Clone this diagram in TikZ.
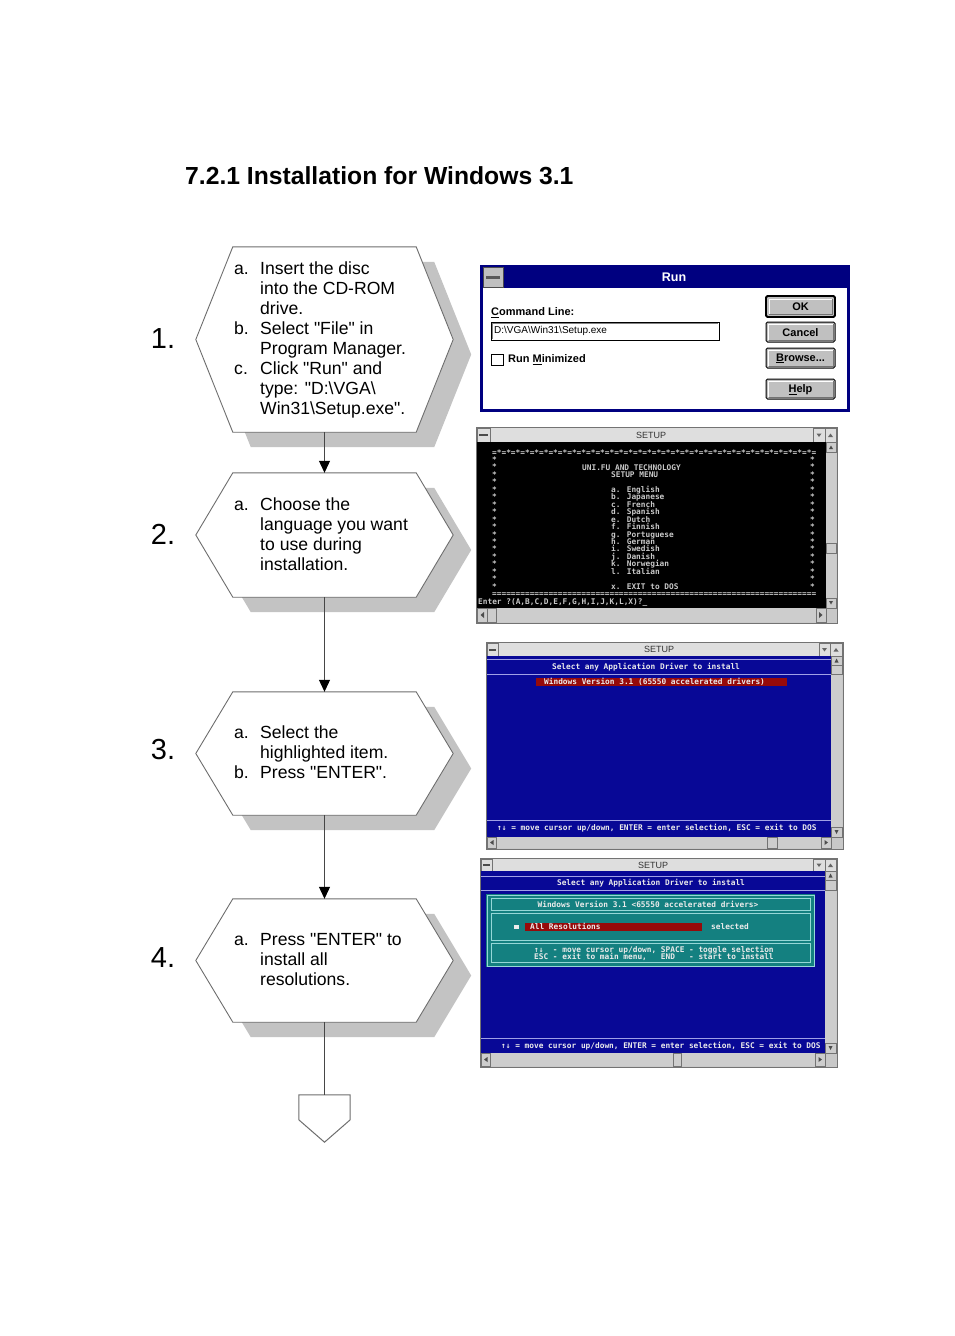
\documentclass[tikz,border=0pt]{standalone}
\usepackage{fontspec}
\setmainfont{Liberation Sans}[Ligatures=TeXOff]
\newfontfamily\dosfont{DejaVu Sans Mono}
\usetikzlibrary{calc,arrows.meta}
\definecolor{hexgray}{RGB}{110,110,110}
\definecolor{shadowgray}{RGB}{195,195,195}
\definecolor{conngray}{RGB}{70,70,70}
\definecolor{winnavy}{RGB}{0,0,128}
\definecolor{scrblue}{RGB}{8,8,150}
\definecolor{btngray}{RGB}{192,192,192}
\definecolor{framegray}{RGB}{200,200,200}
\definecolor{titlegray}{RGB}{222,222,222}
\definecolor{sbgray}{RGB}{205,205,205}
\definecolor{dosgray}{RGB}{200,200,200}
\definecolor{dosred}{RGB}{150,10,10}
\definecolor{dosteal}{RGB}{20,128,128}
\definecolor{tealline}{RGB}{150,215,215}
\definecolor{blueline}{RGB}{160,160,230}
\definecolor{doswhite}{RGB}{235,235,235}
\newcommand\drawhex[1]{%
 \fill[shadowgray] ($(#1.north west)+(55,15)$) -- ($(#1.north east)+(-19,15)$) -- ($(#1.east)+(18,15)$) -- ($(#1.south east)+(-19,15)$) -- ($(#1.south west)+(55,15)$) -- ($(#1.west)+(18,15)$) -- cycle;
 \filldraw[hexline] ($(#1.north west)+(37,0)$) -- ($(#1.north east)+(-37,0)$) -- (#1.east) -- ($(#1.south east)+(-37,0)$) -- ($(#1.south west)+(37,0)$) -- (#1.west) -- cycle;}
\tikzset{
 hexbox/.style={rectangle, inner sep=0pt, minimum width=257pt},
 hexline/.style={fill=white, draw=hexgray, line width=0.9pt},
 steptext/.style={align=left, anchor=west, font=\fontsize{17.6}{20}\selectfont, inner sep=0pt},
 num/.style={font=\fontsize{29}{29}\selectfont, inner sep=0pt},
 conn/.style={draw=conngray, line width=1pt},
 arr/.style={conn, -{Triangle[length=12pt,width=11pt,color=black]}},
 dos/.style={font=\dosfont\bfseries\fontsize{7.8}{7.8}\selectfont, inner sep=0pt, text height=5pt, text depth=0pt, text=dosgray},
 dosl/.style={dos, text=doswhite},
 wintitle/.style={font=\fontsize{9}{9}\selectfont, inner sep=0pt, text=black!80},
 dlg/.style={font=\bfseries\fontsize{11}{11}\selectfont, inner sep=0pt},
 btn/.style={fill=btngray, draw=black, line width=1pt, rounded corners=1.5pt},
 sbline/.style={draw=black!55, line width=0.6pt},
}
\begin{document}
\begin{tikzpicture}[x=1pt,y=-1pt]
\useasboundingbox[fill=white] (0,0) rectangle (954,1336);

% title
\node[anchor=west, inner sep=0pt, font=\bfseries\fontsize{24.7}{24.7}\selectfont] (title) at (185,176) {7.2.1 Installation for Windows 3.1};

% hexagon frames
\node[hexbox, minimum height=185pt] (h1) at (324.5,339.5) {};
\node[hexbox, minimum height=124pt] (h2) at (324.5,535) {};
\node[hexbox, minimum height=123pt] (h3) at (324.5,753.5) {};
\node[hexbox, minimum height=123pt] (h4) at (324.5,960.5) {};
\node[rectangle, inner sep=0pt, minimum width=51pt, minimum height=47pt] (end) at (324.5,1118.5) {};
\drawhex{h1}
\drawhex{h2}
\drawhex{h3}
\drawhex{h4}
\filldraw[fill=white, draw=hexgray, line width=1pt] (end.north west) -- (end.north east) -- ($(end.north east)+(0,25)$) -- (end.south) -- ($(end.north west)+(0,25)$) -- cycle;

% connectors
\draw[arr] (h1.south) -- (h2.north);
\draw[arr] (h2.south) -- (h3.north);
\draw[arr] (h3.south) -- (h4.north);
\draw[conn] (h4.south) -- (end.north);

% step texts
\node[steptext] (t1) at (234,339.5) {\makebox[26pt][l]{a.}Insert the disc\\
\hspace*{26pt}into the CD-ROM\\
\hspace*{26pt}drive.\\
\makebox[26pt][l]{b.}Select "File" in\\
\hspace*{26pt}Program Manager.\\
\makebox[26pt][l]{c.}Click "Run" and\\
\hspace*{26pt}type: "D:\textbackslash VGA\textbackslash{}\\
\hspace*{26pt}Win31\textbackslash Setup.exe".};
\node[steptext] (t2) at (234,534) {\makebox[26pt][l]{a.}Choose the\\
\hspace*{26pt}language you want\\
\hspace*{26pt}to use during\\
\hspace*{26pt}installation.};
\node[steptext] (t3) at (234,752) {\makebox[26pt][l]{a.}Select the\\
\hspace*{26pt}highlighted item.\\
\makebox[26pt][l]{b.}Press "ENTER".};
\node[steptext] (t4) at (234,960) {\makebox[26pt][l]{a.}Press "ENTER" to\\
\hspace*{26pt}install all\\
\hspace*{26pt}resolutions.};

% step numbers
\node[num] (n1) at (163,339) {1.};
\node[num] (n2) at (163,534) {2.};
\node[num] (n3) at (163,750) {3.};
\node[num] (n4) at (163,958) {4.};

% ---------- Run dialog ----------
\fill[winnavy] (480,265) rectangle (850,412);
\fill[white] (483,288) rectangle (847,409);
\fill[btngray] (483,267) rectangle (503,287);
\draw[black!70, line width=0.6pt] (483,267) rectangle (503,287);
\fill[black!65] (486,276) rectangle (500,278.5);
\node[font=\bfseries\fontsize{12.5}{12.5}\selectfont, text=white, inner sep=0pt] (runtitle) at (674,277.5) {Run};
\node[dlg, anchor=west] (cmdlbl) at (491,313) {\underline{C}ommand Line:};
\draw[black, line width=0.9pt] (491,322) rectangle (719,340);
\draw[black!50, line width=0.8pt] (492.5,338.5) |- (717.5,323.5);
\node[font=\fontsize{10}{10}\selectfont, anchor=west, inner sep=0pt] (cmdtxt) at (494,331) {D:\textbackslash VGA\textbackslash Win31\textbackslash Setup.exe};
\draw[black, line width=0.9pt] (491,354) rectangle (503,365);
\node[dlg, anchor=west] (minlbl) at (508,360) {Run \underline{M}inimized};
\draw[btn, line width=1.8pt] (766,296) rectangle (835,317);
\draw[btn] (766,322) rectangle (835,342);
\draw[btn] (766,348) rectangle (835,368);
\draw[btn] (766,379) rectangle (835,399);
\draw[white, line width=1pt] (769,315) |- (832,299) (768.5,340) |- (833,324) (768.5,366) |- (833,350) (768.5,397) |- (833,381);
\draw[black!55, line width=1pt] (769,314.5) -| (832.5,299) (768.5,340.3) -| (833.3,324) (768.5,366.3) -| (833.3,350) (768.5,397.3) -| (833.3,381);
\node[dlg] (okbtn) at (800.5,307) {OK};
\node[dlg] (cancelbtn) at (800.5,332.5) {Cancel};
\node[dlg] (browsebtn) at (800.5,358.5) {\underline{B}rowse...};
\node[dlg] (helpbtn) at (800.5,389.5) {\underline{H}elp};

% ---------- Setup screen 1 (black) ----------
\fill[framegray] (476,427) rectangle (837,623);
\draw[black!55, line width=0.8pt] (476,427) rectangle (837,623);
\fill[titlegray] (477,428) rectangle (836,442);
\draw[sbline] (477,442) -- (836,442);
\draw[sbline] (477,428) rectangle (490,442);
\fill[black!70] (479,434) rectangle (488,436);
\draw[sbline] (813,428) rectangle (825,442) (825,428) rectangle (836,442);
\fill[black!60] (816.5,433.5) -- (821.5,433.5) -- (819,437) -- cycle;
\fill[black!60] (828,437) -- (833,437) -- (830.5,433.5) -- cycle;
\node[wintitle] (s1title) at (651,435) {SETUP};
\fill[black] (477,442) rectangle (826,608);
\fill[sbgray] (826,442) rectangle (836,608);
\draw[sbline] (826,442) rectangle (836,452) (826,543) rectangle (836,553) (826,598) rectangle (836,608);
\fill[black!70] (829,449) -- (833,449) -- (831,445.5) -- cycle;
\fill[black!70] (829,601) -- (833,601) -- (831,604.5) -- cycle;
\fill[sbgray] (477,608) rectangle (826,622);
\draw[sbline] (477,608) rectangle (487,622) (487,608) rectangle (496,622) (816,608) rectangle (826,622);
\fill[black!70] (484,612) -- (484,618) -- (480.5,615) -- cycle;
\fill[black!70] (819,612) -- (819,618) -- (822.5,615) -- cycle;
\node[dos, anchor=west] (s1top) at (492,452.5) {=*=*=*=*=*=*=*=*=*=*=*=*=*=*=*=*=*=*=*=*=*=*=*=*=*=*=*=*=*=*=*=*=*=*=};
\foreach \k in {0,...,17} {
 \node[dos, anchor=west] (sl\k) at (492,{460+7.45*\k}) {*};
 \node[dos, anchor=west] (sr\k) at (810,{460+7.45*\k}) {*};
}
\node[dos, anchor=west] (s1bot) at (492,594) {=====================================================================};
\node[dos, anchor=west] (s1h1) at (582,467.5) {UNI.FU AND TECHNOLOGY};
\node[dos, anchor=west] (s1h2) at (611,475) {SETUP MENU};
\foreach \t [count=\i from 4] in {a. English, b. Japanese, c. French, d. Spanish, e. Dutch, f. Finnish, g. Portuguese, h. German, i. Swedish, j. Danish, k. Norwegian, l. Italian} {
 \node[dos, anchor=west] (sm\i) at (611,{460+7.45*\i}) {\t};
}
\node[dos, anchor=west] (s1x) at (611,{460+7.45*17}) {x. EXIT to DOS};
\node[dos, anchor=west] (s1enter) at (478,602) {Enter ?(A,B,C,D,E,F,G,H,I,J,K,L,X)?\_};

% ---------- Setup screen 2 (blue) ----------
\fill[framegray] (486,642) rectangle (843,849);
\draw[black!55, line width=0.8pt] (486,642) rectangle (843,849);
\fill[titlegray] (487,643) rectangle (842,656);
\draw[sbline] (487,656) -- (842,656);
\draw[sbline] (487,643) rectangle (498,656);
\fill[black!70] (489,648.5) rectangle (496,650.5);
\draw[sbline] (819,643) rectangle (830,656) (830,643) rectangle (842,656);
\fill[black!60] (822,648) -- (827,648) -- (824.5,651.5) -- cycle;
\fill[black!60] (833.5,651.5) -- (838.5,651.5) -- (836,648) -- cycle;
\node[wintitle] (s2title) at (659,649.5) {SETUP};
\fill[scrblue] (487,656) rectangle (831,837);
\draw[blueline, line width=0.8pt] (487,659.5) -- (831,659.5) (487,674) -- (831,674) (487,820) -- (831,820);
\node[dosl] (s2head) at (646,667) {Select any Application Driver to install};
\fill[dosred] (536,678) rectangle (787,685.5);
\node[dosl, anchor=west] (s2sel) at (544,681.8) {Windows Version 3.1 (65550 accelerated drivers)};
\node[dosl, anchor=west] (s2foot) at (497,827.5) {↑↓ = move cursor up/down, ENTER = enter selection, ESC = exit to DOS};
\fill[sbgray] (831,656) rectangle (842,837);
\draw[sbline] (831,656) rectangle (842,665) (831,665) rectangle (842,674) (831,827) rectangle (842,837);
\fill[black!70] (834.5,662.5) -- (838.5,662.5) -- (836.5,658.5) -- cycle;
\fill[black!70] (834.5,830) -- (838.5,830) -- (836.5,834) -- cycle;
\fill[sbgray] (487,837) rectangle (831,848);
\draw[sbline] (487,837) rectangle (496,848) (767,837) rectangle (777,848) (821,837) rectangle (831,848);
\fill[black!70] (493.5,840) -- (493.5,845) -- (490,842.5) -- cycle;
\fill[black!70] (824.5,840) -- (824.5,845) -- (828,842.5) -- cycle;

% ---------- Setup screen 3 (blue, teal box) ----------
\fill[framegray] (480,858) rectangle (837,1067);
\draw[black!55, line width=0.8pt] (480,858) rectangle (837,1067);
\fill[titlegray] (481,859) rectangle (836,871);
\draw[sbline] (481,871) -- (836,871);
\draw[sbline] (481,859) rectangle (492,871);
\fill[black!70] (483,864) rectangle (490,866);
\draw[sbline] (813,859) rectangle (825,871) (825,859) rectangle (836,871);
\fill[black!60] (816.5,863.5) -- (821.5,863.5) -- (819,867) -- cycle;
\fill[black!60] (828,867) -- (833,867) -- (830.5,863.5) -- cycle;
\node[wintitle] (s3title) at (653,865) {SETUP};
\fill[scrblue] (481,871) rectangle (825,1053);
\draw[blueline, line width=0.8pt] (481,876) -- (825,876) (481,890) -- (825,890) (481,1038) -- (825,1038);
\node[dosl] (s3head) at (651,883) {Select any Application Driver to install};
\fill[dosteal] (486,894) rectangle (815,967);
\draw[tealline, line width=0.9pt] (487,895) rectangle (814,966);
\draw[tealline, line width=0.8pt] (491,898) rectangle (810,910) (491,913) rectangle (810,940) (491,943) rectangle (810,962);
\node[dosl] (s3box) at (648,904.5) {Windows Version 3.1 <65550 accelerated drivers>};
\fill[doswhite] (514,925) rectangle (518.5,929);
\fill[dosred] (525,923) rectangle (702,930.5);
\node[dosl, anchor=west] (s3all) at (530,926.8) {All Resolutions};
\node[dosl, anchor=west] (s3seld) at (711,926.8) {selected};
\node[dosl, anchor=west] (s3k1) at (534,949.5) {↑↓\ \ - move cursor up/down, SPACE - toggle selection};
\node[dosl, anchor=west] (s3k2) at (534,956.8) {ESC - exit to main menu,\ \ \ END\ \ \ - start to install};
\node[dosl, anchor=west] (s3foot) at (501,1046) {↑↓ = move cursor up/down, ENTER = enter selection, ESC = exit to DOS};
\fill[sbgray] (825,871) rectangle (836,1053);
\draw[sbline] (825,871) rectangle (836,880) (825,880) rectangle (836,890) (825,1043) rectangle (836,1053);
\fill[black!70] (828.5,877.5) -- (832.5,877.5) -- (830.5,873.5) -- cycle;
\fill[black!70] (828.5,1046) -- (832.5,1046) -- (830.5,1050) -- cycle;
\fill[sbgray] (481,1053) rectangle (825,1066);
\draw[sbline] (481,1053) rectangle (490,1066) (673,1053) rectangle (681,1066) (815,1053) rectangle (825,1066);
\fill[black!70] (487.5,1057) -- (487.5,1062) -- (484,1059.5) -- cycle;
\fill[black!70] (818.5,1057) -- (818.5,1062) -- (822,1059.5) -- cycle;
\end{tikzpicture}
\end{document}
